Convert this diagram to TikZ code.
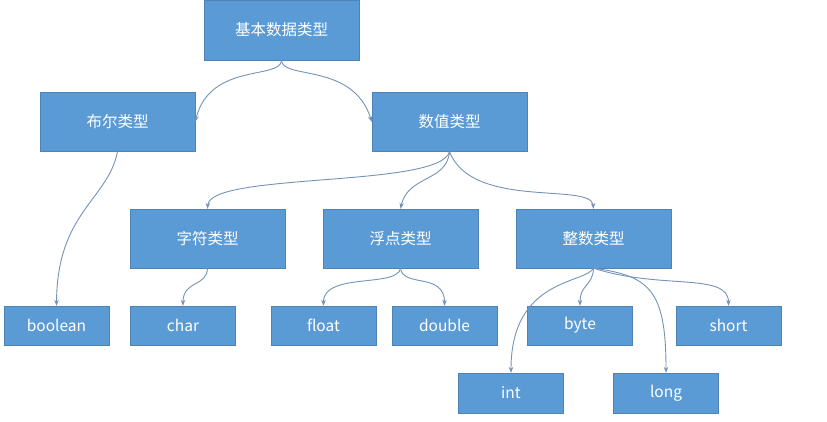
\documentclass[tikz,border=0pt]{standalone}
\usepackage{fontspec}
\setmainfont{Noto Sans CJK SC}
\usetikzlibrary{arrows.meta}
\definecolor{boxblue}{HTML}{5B9BD5}
\definecolor{linkc}{HTML}{7393B8}
\begin{document}
\begin{tikzpicture}[x=1pt,y=-1pt,
  box/.style={fill=boxblue,draw=boxblue!85!black,line width=0.3pt,text=white,inner sep=0pt,
    font=\fontsize{15.5}{18}\selectfont},
  bigbox/.style={box,minimum width=155pt,minimum height=59pt},
  smallbox/.style={box,minimum width=105pt,minimum height=39pt},
  link/.style={draw=linkc,line width=0.9pt,-{Stealth[length=6pt,width=4.5pt]}}]
\useasboundingbox (0,0) rectangle (827,421);
\node[bigbox,minimum height=60pt] (root) at (281.5,30) {基本数据类型};
\node[bigbox] (bool) at (117.5,122) {布尔类型};
\node[bigbox] (num) at (449.5,122) {数值类型};
\node[bigbox] (zifu) at (207.5,238.5) {字符类型};
\node[bigbox] (fudian) at (400.5,238.5) {浮点类型};
\node[bigbox] (zhengshu) at (593.5,238.5) {整数类型};
\node[smallbox] (boolean) at (56.5,325.5) {boolean};
\node[smallbox] (char) at (183,325.5) {char};
\node[smallbox] (float) at (323.5,325.5) {float};
\node[smallbox] (double) at (444.5,325.5) {double};
\node[smallbox] (byte) at (580,325.5) {byte};
\node[smallbox] (short) at (728.5,325.5) {short};
\node[smallbox,minimum height=40pt] (int) at (511,393) {int};
\node[smallbox,minimum height=40pt] (long) at (666,393) {long};
\path[link] (root.south) .. controls (281,80) and (210,62) .. (bool.east);
\path[link] (root.south) .. controls (282,80) and (353,62) .. (num.west);
\path[link] (bool.south) .. controls (108,200) and (57,212) .. (boolean.north);
\path[link] (num.south) .. controls (440,188) and (210,172) .. (zifu.north);
\path[link] (num.south) .. controls (447,182) and (408,175) .. (fudian.north);
\path[link] (num.south) .. controls (472,210) and (591,182) .. (zhengshu.north);
\path[link] (zifu.south) .. controls (207,287) and (183,280) .. (char.north);
\path[link] (fudian.south) .. controls (398,288) and (323,272) .. (float.north);
\path[link] (fudian.south) .. controls (403,288) and (444.5,272) .. (double.north);
\path[link] (zhengshu.south) .. controls (585,284) and (511,278) .. (int.north);
\path[link] (zhengshu.south) .. controls (593,286) and (580,284) .. (byte.north);
\path[link] (zhengshu.south) .. controls (650,276) and (666,290) .. (long.north);
\path[link] (zhengshu.south) .. controls (660,290) and (728.5,272) .. (short.north);
\end{tikzpicture}
\end{document}
